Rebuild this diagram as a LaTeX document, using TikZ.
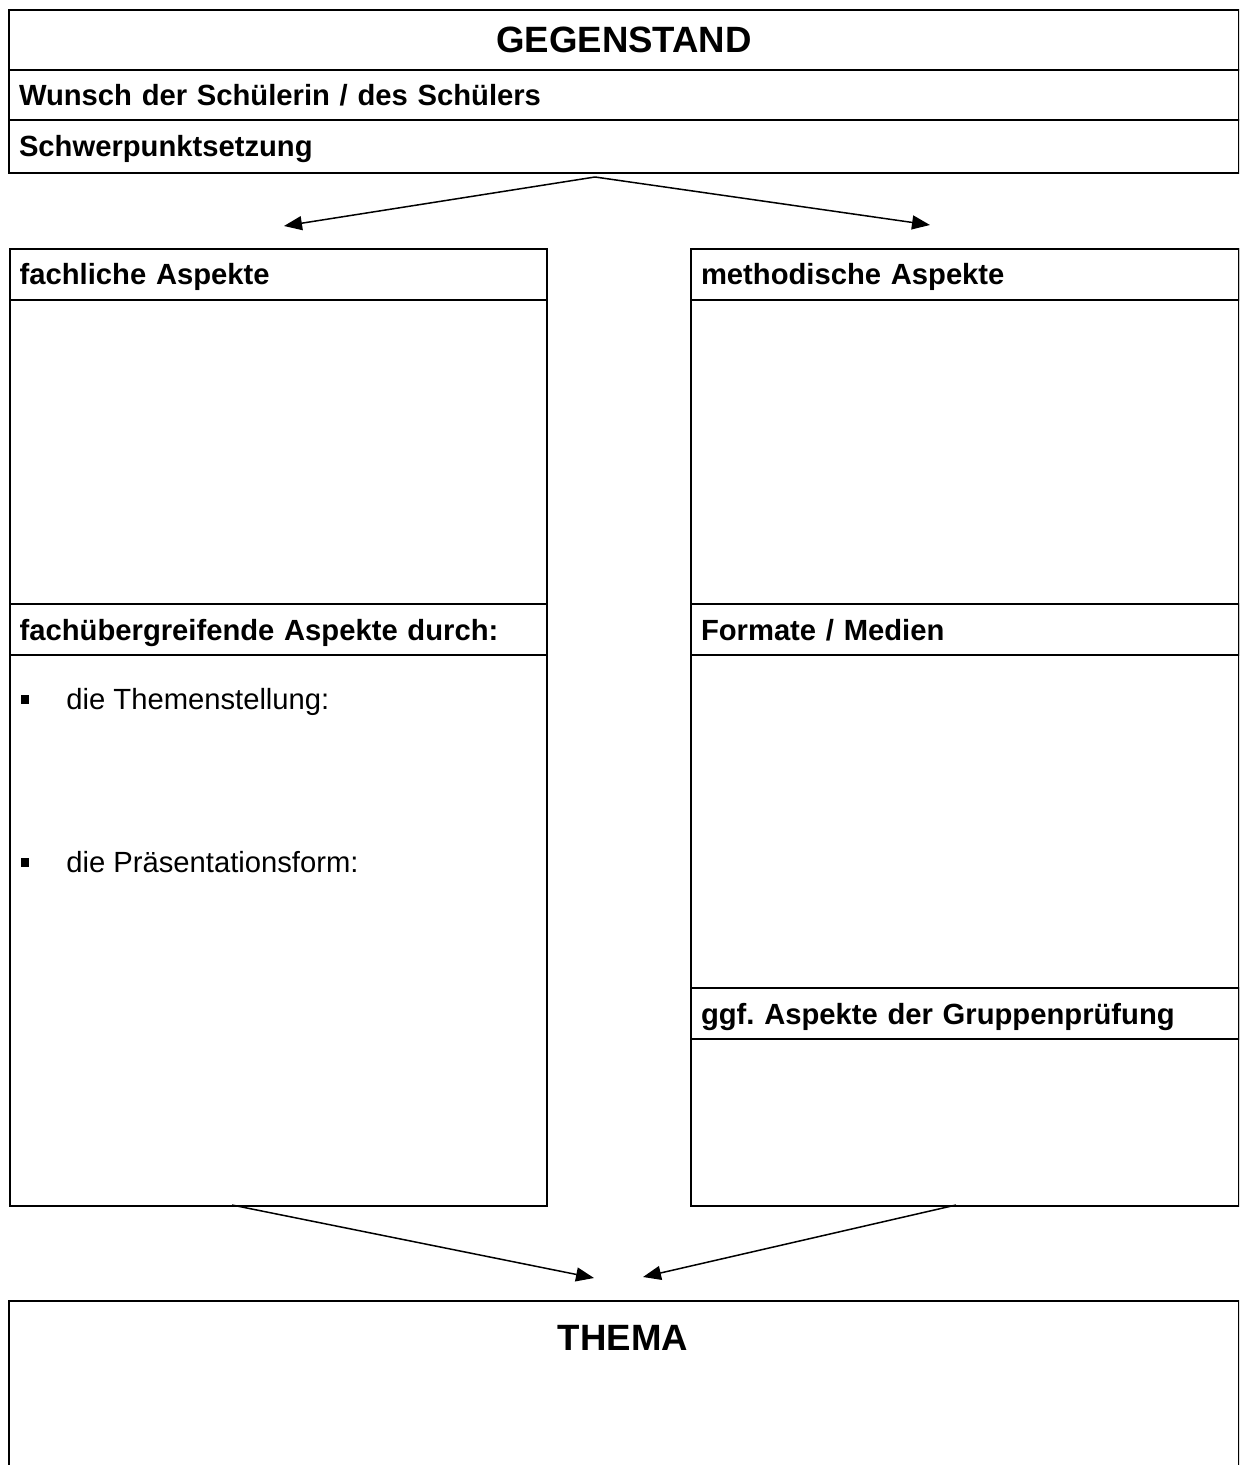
\documentclass[tikz,border=0pt]{standalone}
\usepackage{fontspec}
\setmainfont{Liberation Sans}
\usetikzlibrary{arrows.meta}
\frenchspacing

\tikzset{
    rahmen/.style={draw, line width=1pt, anchor=north west, inner sep=0pt},
    zeile/.style={rahmen, inner xsep=5pt, text width=#1, align=left,
        text height=10.5pt, text depth=0pt,
        font=\fontsize{14.6}{17}\selectfont\bfseries},
    titel/.style={font=\fontsize{18.3}{22}\selectfont\bfseries},
    liste/.style={anchor=base west, inner sep=0pt, font=\fontsize{14.6}{17}\selectfont},
    punkt/.style={fill, minimum width=4pt, minimum height=4.5pt, inner sep=0pt},
    pfeil/.style={-{Triangle[length=9pt,width=7pt]}, line width=0.75pt},
}

\begin{document}
\begin{tikzpicture}[x=0.5pt,y=-0.5pt]
    \useasboundingbox (0,0) rectangle (1239,1465);
    \clip (0,0) rectangle (1239,1465);

    % Gegenstand
    \node[rahmen, titel, minimum width=615pt, minimum height=30pt] (gegenstand) at (8,9) {GEGENSTAND};
    \node[zeile=605pt, minimum height=25pt] (wunsch) at (8,69) {Wunsch der Schülerin / des Schülers};
    \node[zeile=605pt, minimum height=26.5pt] (schwerpunkt) at (8,119) {Schwerpunktsetzung};

    % linke Spalte
    \node[rahmen, minimum width=268.5pt, minimum height=478.5pt] (links) at (8.7,248) {};
    \node[zeile=258.5pt, minimum height=25.5pt] (fachlich) at (8.7,248) {fachliche Aspekte};
    \node[zeile=258.5pt, minimum height=25.5pt] (uebergreifend) at (8.7,603) {fachübergreifende Aspekte durch:};
    \node[punkt] (punkt1) at (24.5,699) {};
    \node[liste] (themen) at (66,709) {die Themenstellung:};
    \node[punkt] (punkt2) at (24.5,862) {};
    \node[liste] (praesentation) at (66,872) {die Präsentationsform:};

    % rechte Spalte
    \node[rahmen, minimum width=274pt, minimum height=478.5pt] (rechts) at (690,248) {};
    \node[zeile=264pt, minimum height=25.5pt] (methodisch) at (690,248) {methodische Aspekte};
    \node[zeile=264pt, minimum height=25.5pt] (formate) at (690,603) {Formate / Medien};
    \node[zeile=264pt, minimum height=25.5pt] (gruppe) at (690,987) {ggf. Aspekte der Gruppenprüfung};

    % Thema
    \node[rahmen, minimum width=615pt, minimum height=100pt] (thema) at (8,1300) {};
    \node[titel] (thematitel) at (623,1338) {THEMA};

    % Pfeile
    \coordinate (start) at (595,177);
    \coordinate (zielL) at (284,226);
    \coordinate (zielR) at (930,225);
    \coordinate (ausL) at (232,1205);
    \coordinate (ausR) at (956,1205);
    \coordinate (zuL) at (594,1278);
    \coordinate (zuR) at (643,1277);
    \draw[pfeil] (start) -- (zielL);
    \draw[pfeil] (start) -- (zielR);
    \draw[pfeil] (ausL) -- (zuL);
    \draw[pfeil] (ausR) -- (zuR);
\end{tikzpicture}
\end{document}
